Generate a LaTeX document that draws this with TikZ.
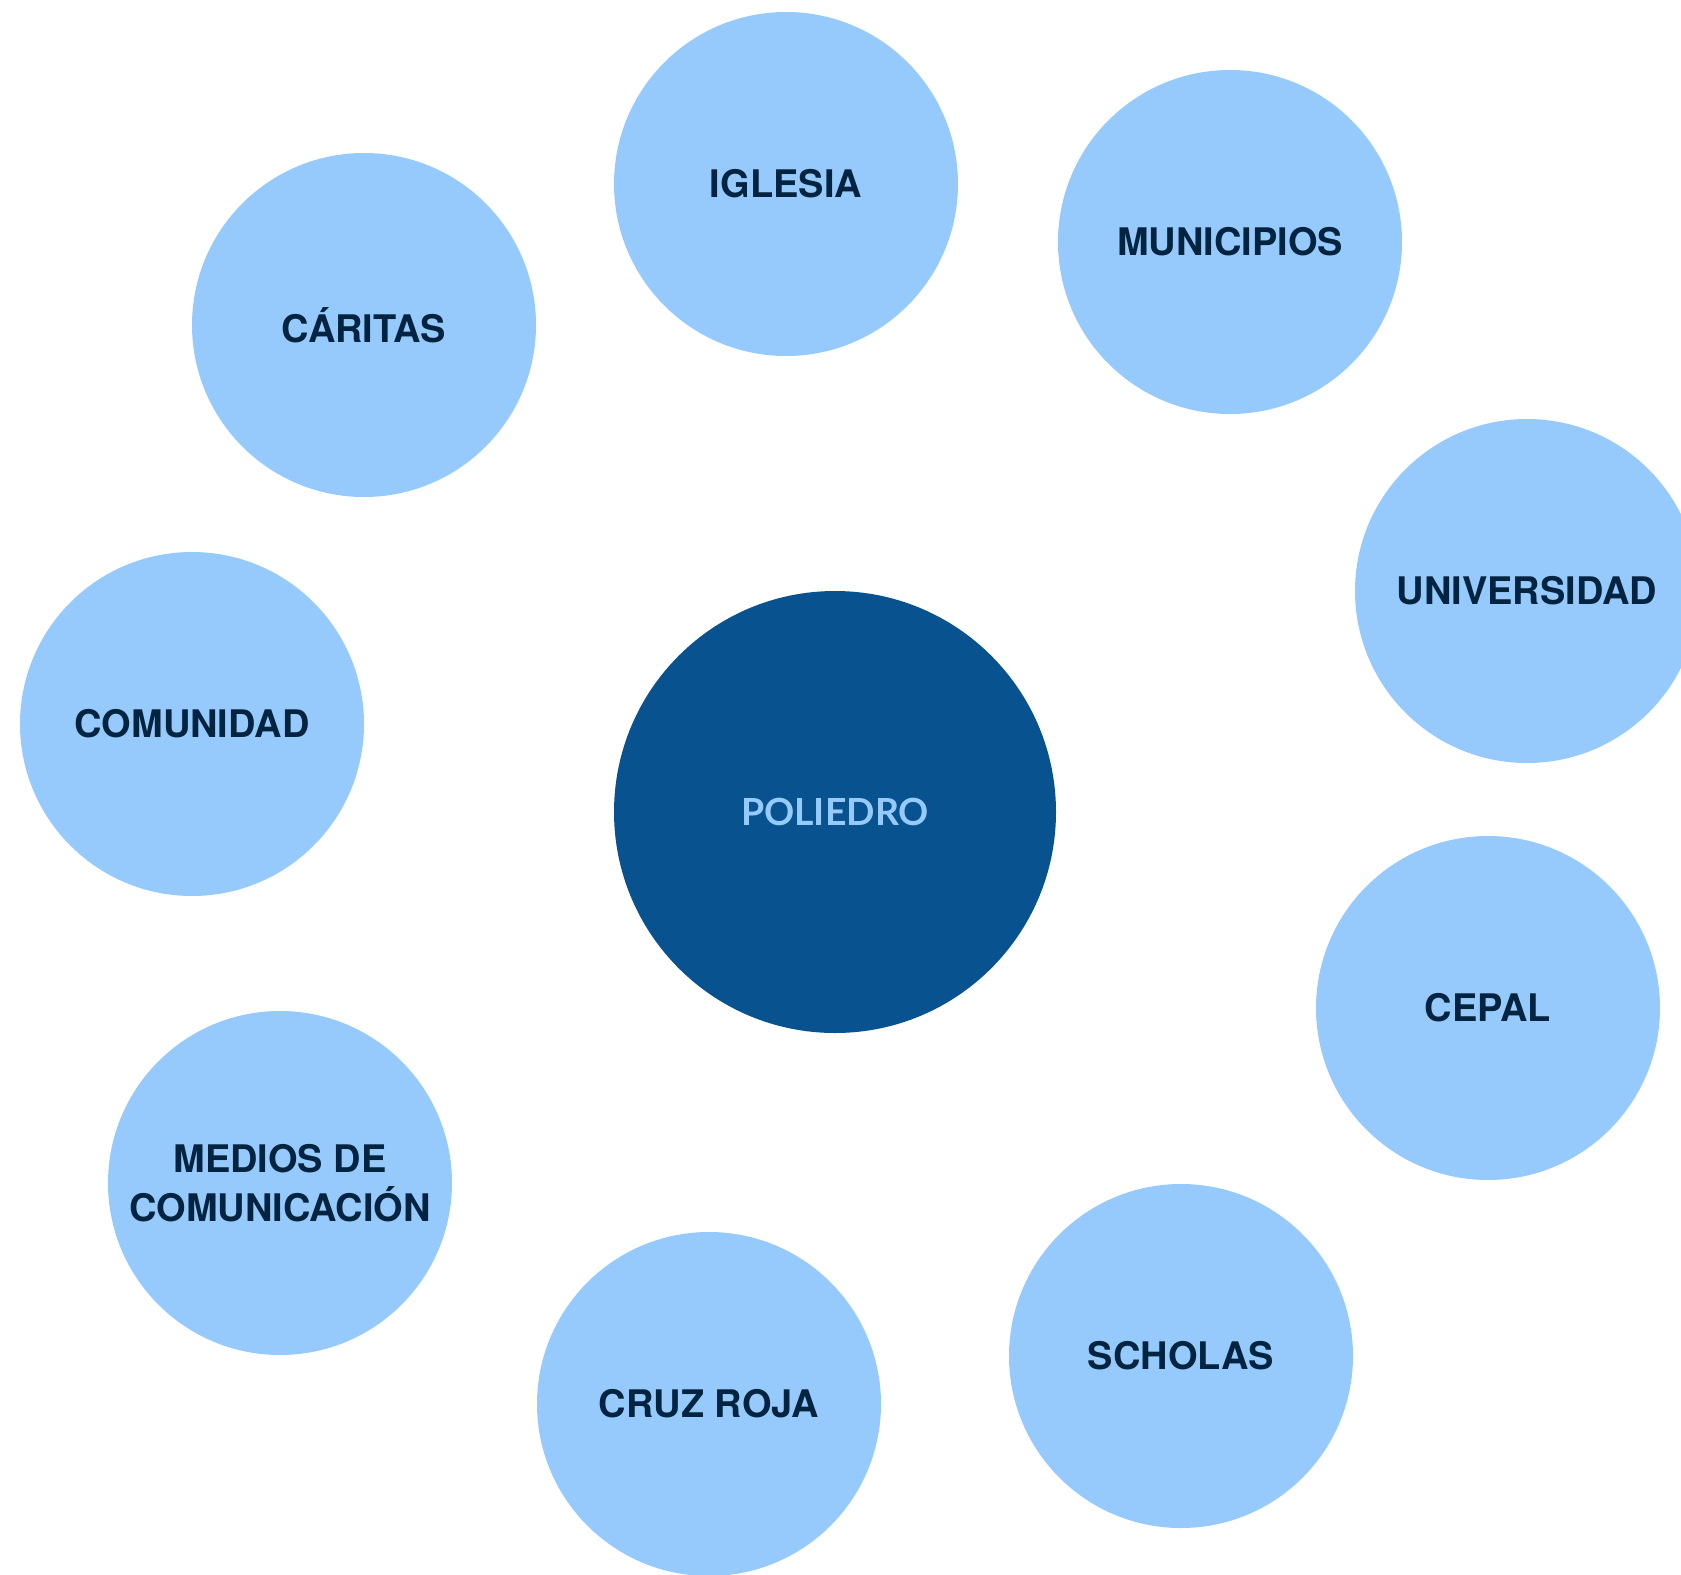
\documentclass[tikz,border=0pt]{standalone}
\usepackage{fontspec}
\setmainfont{TeX Gyre Heros}
\newfontfamily\latofont{Lato}
\definecolor{lightblue}{HTML}{97CAFC}
\definecolor{darkblue}{HTML}{07528F}
\definecolor{navytext}{HTML}{032440}
\tikzset{
  satellite/.style={circle, fill=lightblue, minimum size=172pt, inner sep=0pt,
    text=navytext, font=\fontsize{19}{24.5}\selectfont\bfseries, align=center},
  hub/.style={circle, fill=darkblue, minimum size=221pt, inner sep=0pt,
    text=lightblue, font=\latofont\fontsize{18.7}{24}\selectfont\bfseries}
}
\begin{document}
\begin{tikzpicture}[x=0.5pt,y=-0.5pt]
\useasboundingbox (0,0) rectangle (1681,1574);
\clip (0,0) rectangle (1681,1574);
% centre
\node[hub] (poliedro) at (835,812) {POLIEDRO};
% surrounding circles
\node[satellite] (iglesia) at (786,184) {IGLESIA};
\node[satellite] (municipios) at (1230,242) {MUNICIPIOS};
\node[satellite] (caritas) at (364,325) {CÁRITAS};
\node[satellite] (universidad) at (1527,591) {UNIVERSIDAD};
\node[satellite] (comunidad) at (192,724) {COMUNIDAD};
\node[satellite] (cepal) at (1488,1008) {CEPAL};
\node[satellite] (medios) at (280,1183) {MEDIOS DE\\COMUNICACIÓN};
\node[satellite] (scholas) at (1181,1356) {SCHOLAS};
\node[satellite] (cruzroja) at (709,1404) {CRUZ ROJA};
\end{tikzpicture}
\end{document}
